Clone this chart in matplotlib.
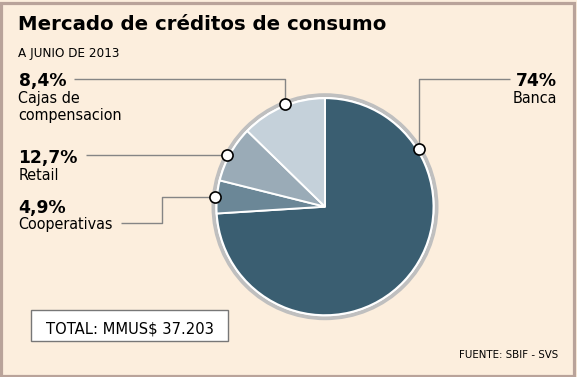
import matplotlib
matplotlib.use("Agg")
import matplotlib.pyplot as plt
from matplotlib.patches import Rectangle, Circle
import numpy as np

# ---------------- data ----------------
title = "Mercado de créditos de consumo"
subtitle = "A JUNIO DE 2013"
# slices in drawing order, clockwise from 12 o'clock (as drawn in the reference)
slice_names = ["Banca", "Cooperativas", "Retail", "Cajas de\ncompensacion"]
slice_values = [74.0, 4.9, 8.4, 12.7]
label_pcts = ["74%", "4,9%", "12,7%", "8,4%"]
total_text = "TOTAL: MMUS$ 37.203"
source_text = "FUENTE: SBIF - SVS"

# ---------------- style ----------------
W, H = 577, 377
BG = "#FCEEDD"
FRAME = "#B9A39A"
slice_colors = ["#3A5E71", "#6B8797", "#9AABB7", "#C5D1DA"]
RING = "#BFBFBF"
LEAD = "#858585"

fig = plt.figure(figsize=(W / 100, H / 100), dpi=100)
fig.patch.set_facecolor(BG)
ax = fig.add_axes([0, 0, 1, 1])
ax.set_facecolor(BG)

def Y(y):
    return H - y

cx, cy, R = 325.0, 206.7, 108.5

# ring behind the pie
ax.add_patch(Circle((cx, Y(cy)), R + 5.0, facecolor=RING, edgecolor="none", zorder=1))
ax.add_patch(Circle((cx, Y(cy)), R + 1.2, facecolor="white", edgecolor="none", zorder=1.5))

wedges, _ = ax.pie(slice_values, startangle=90, counterclock=False,
                   center=(cx, Y(cy)), radius=R, colors=slice_colors,
                   wedgeprops=dict(edgecolor="white", linewidth=1.4, zorder=2),
                   normalize=True)

ax.set_xlim(0, W)
ax.set_ylim(0, H)
ax.set_aspect("auto")
ax.axis("off")

# marker positions along each wedge (fraction from theta1 to theta2)
marker_frac = [0.78, 0.5, 0.55, 0.46]
mr = R + 2.0
mpos = []
for w, f in zip(wedges, marker_frac):
    a = np.deg2rad(w.theta1 + f * (w.theta2 - w.theta1))
    mpos.append((cx + mr * np.cos(a), Y(cy) + mr * np.sin(a)))

lkw = dict(color=LEAD, lw=1.0, zorder=3, solid_capstyle="butt")
# Banca leader
mx, my = mpos[0]
ax.plot([510, mx, mx], [Y(79.3), Y(79.3), my], **lkw)
# Cooperativas leader
mx, my = mpos[1]
ax.plot([121, 162, 162, mx], [Y(223.3), Y(223.3), my, my], **lkw)
# Retail leader
mx, my = mpos[2]
ax.plot([86, mx], [my, my], **lkw)
# Cajas leader
mx, my = mpos[3]
ax.plot([74, mx, mx], [Y(79.3), Y(79.3), my], **lkw)

for (mx, my) in mpos:
    ax.plot([mx], [my], marker="o", markersize=8.0, markerfacecolor="white",
            markeredgecolor="black", markeredgewidth=1.2, zorder=5)

FONT = "DejaVu Sans"
COND = "condensed"

# title & subtitle
ax.text(18.5, Y(29.5), title, fontsize=14.2, fontweight="bold", family=FONT,
        ha="left", va="baseline", color="black")
ax.text(18.5, Y(57.3), subtitle, fontsize=9.6, family=FONT, fontstretch=COND,
        ha="left", va="baseline", color="black")

# labels
bold_kw = dict(fontsize=12.3, fontweight="bold", family=FONT, va="baseline", color="black")
reg_kw = dict(fontsize=11.5, family=FONT, fontstretch=COND, va="baseline", color="black")

ax.text(557, Y(86), label_pcts[0], ha="right", **bold_kw)
ax.text(557, Y(102.7), slice_names[0], ha="right", **reg_kw)

ax.text(18.5, Y(86), label_pcts[3], ha="left", **bold_kw)
ax.text(18.5, Y(103.3), "Cajas de", ha="left", **reg_kw)
ax.text(18.5, Y(120), "compensacion", ha="left", **reg_kw)

ax.text(18.5, Y(163.5), label_pcts[2], ha="left", **bold_kw)
ax.text(18.5, Y(180), slice_names[2], ha="left", **reg_kw)

ax.text(18.5, Y(212.7), label_pcts[1], ha="left", **bold_kw)
ax.text(18.5, Y(228.5), slice_names[1], ha="left", **reg_kw)

# total box
ax.add_patch(Rectangle((30.5, Y(341)), 197, 31, facecolor="white",
                       edgecolor="#777777", lw=1.0, zorder=3))
ax.text(129.5, Y(333.3), total_text, fontsize=11.8, family=FONT, fontstretch=COND,
        ha="center", va="baseline", color="black", zorder=4)

# source
ax.text(558, Y(358.3), source_text, fontsize=8.2, family=FONT, fontstretch=COND,
        ha="right", va="baseline", color="black")

# frame
ax.add_patch(Rectangle((1.2, 1.2), W - 4.0, H - 4.6, facecolor="none",
                       edgecolor=FRAME, lw=2.3, zorder=6))

fig.savefig("out.png", dpi=100, facecolor=BG)
